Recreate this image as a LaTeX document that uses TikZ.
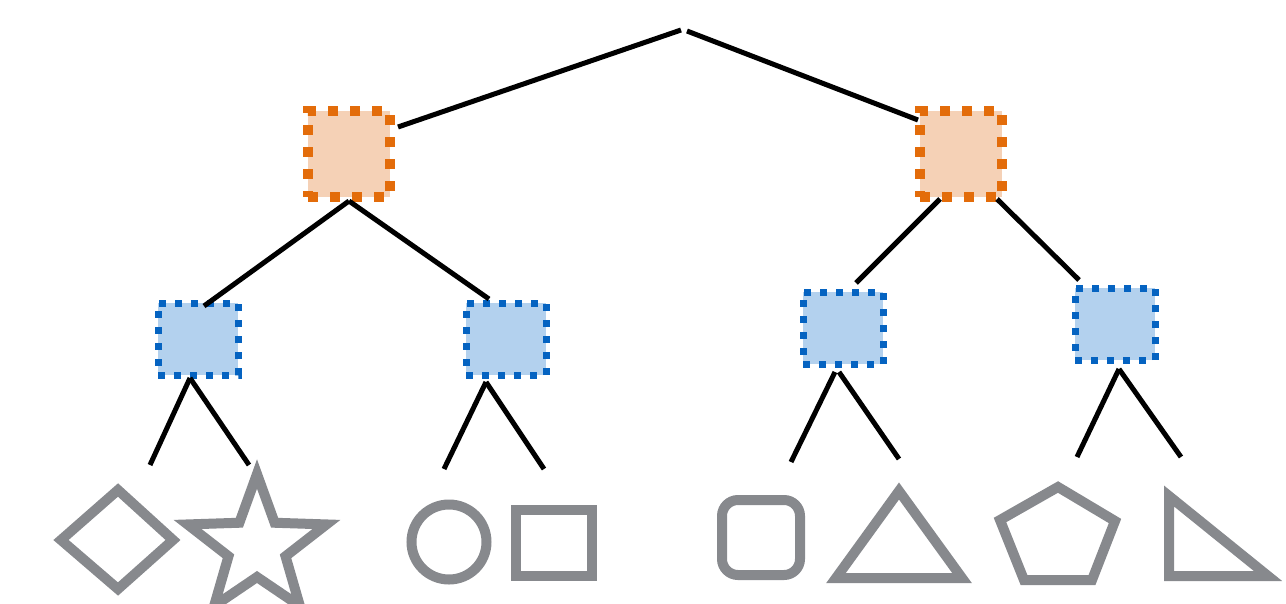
\documentclass[tikz,border=0pt]{standalone}
\definecolor{orangefill}{HTML}{F5D1B6}
\definecolor{orangeline}{HTML}{E36C0A}
\definecolor{bluefill}{HTML}{B3D1EE}
\definecolor{blueline}{HTML}{0563C1}
\definecolor{shapegray}{HTML}{87898D}
\tikzset{
  upperbox/.style={rectangle, fill=orangefill, draw=orangeline, line width=9.5pt,
    dash pattern=on 10pt off 12pt, minimum width=82pt, minimum height=86pt, inner sep=0pt},
  lowerbox/.style={rectangle, fill=bluefill, draw=blueline, line width=7pt,
    dash pattern=on 7pt off 9pt, minimum width=80pt, minimum height=72pt, inner sep=0pt},
  edge/.style={line width=5pt, black},
  leaf/.style={line width=10pt, draw=shapegray, line join=miter}
}
\begin{document}
\begin{tikzpicture}[x=1pt, y=-1pt]
  \useasboundingbox (0,0) rectangle (1286,603);

  % internal nodes
  \node[upperbox] (L) at (349,154) {};
  \node[upperbox] (R) at (961,154) {};
  \node[lowerbox] (LL) at (198,339) {};
  \node[lowerbox] (LR) at (506,339) {};
  \node[lowerbox] (RL) at (843,328) {};
  \node[lowerbox] (RR) at (1115,324) {};

  % root joint
  \coordinate (topL) at (681,30);
  \coordinate (topR) at (687,31);
  \draw[edge] (topL) -- (398,127) coordinate (Lin);
  \draw[edge] (topR) -- (918,120) coordinate (Rin);

  % second level
  \coordinate (Lb) at (349,201);
  \draw[edge] (Lb) -- (204,306) coordinate (LLin);
  \draw[edge] (Lb) -- (489,299) coordinate (LRin);
  \draw[edge] (940,199) coordinate (Rb1) -- (856,283) coordinate (RLin);
  \draw[edge] (997,199) coordinate (Rb2) -- (1079,280) coordinate (RRin);

  % leaf connectors
  \coordinate (LLb) at (190,378);
  \draw[edge] (LLb) -- (150,465) coordinate (s1);
  \draw[edge] (LLb) -- (249,465) coordinate (s2);
  \coordinate (LRb) at (486,382);
  \draw[edge] (LRb) -- (444,469) coordinate (s3);
  \draw[edge] (LRb) -- (544,469) coordinate (s4);
  \draw[edge] (835,372) coordinate (RLb1) -- (791,462) coordinate (s5);
  \draw[edge] (839,372) coordinate (RLb2) -- (899,459) coordinate (s6);
  \coordinate (RRb) at (1119,369);
  \draw[edge] (RRb) -- (1077,457) coordinate (s7);
  \draw[edge] (RRb) -- (1181,457) coordinate (s8);

  % leaves
  \draw[leaf] (61,540) -- (118,490) -- (173,540) -- (118,589) -- cycle;
  \draw[leaf] (257,474)
    \foreach \a in {1,...,4} { -- ({257+30*sin(36+72*(\a-1))},{547-30*cos(36+72*(\a-1))})
                               -- ({257+73*sin(72*\a)},{547-73*cos(72*\a)}) }
    -- ({257+30*sin(324)},{547-30*cos(324)}) -- cycle;
  \draw[leaf] (449,542) circle (37.5);
  \draw[leaf] (516,510) rectangle (592,576);
  \draw[leaf, rounded corners=16pt] (722,500) rectangle (800,575);
  \draw[leaf] (899,491) -- (962,578) -- (836,578) -- cycle;
  \draw[leaf] (1058,487) -- (1115,521) -- (1092,580) -- (1024,580) -- (1000,520) -- cycle;
  \draw[leaf] (1169,496) -- (1268,576) -- (1169,576) -- cycle;
\end{tikzpicture}
\end{document}
